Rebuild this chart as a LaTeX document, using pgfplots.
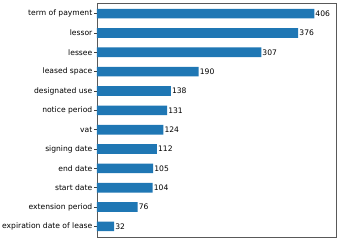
\documentclass[border=0pt]{standalone}
\usepackage{pgfplots}
\pgfplotsset{compat=1.18}
\usetikzlibrary{calc}
\usepackage{fontspec}
\setmainfont{DejaVu Sans}
\definecolor{bar}{HTML}{1F77B4}
\begin{document}
\begin{tikzpicture}
\begin{axis}[
  scale only axis,
  width=239pt, height=234pt,
  xbar, bar width=0.5, bar shift=0pt,
  xmin=0, xmax=446.6,
  ymin=-0.55, ymax=11.55,
  y dir=reverse,
  xtick=\empty,
  ytick={0,...,11},
  ytick pos=left,
  yticklabels={term of payment,lessor,lessee,leased space,designated use,notice period,vat,signing date,end date,start date,extension period,expiration date of lease},
  yticklabel style={font=\fontsize{7.6}{9}\selectfont, inner sep=1.5pt},
  tick align=outside,
  major tick length=3pt,
  tick style={black!75, line width=0.5pt},
  axis line style={black!65, line width=0.6pt},
  nodes near coords,
  every node near coord/.append style={font=\fontsize{7.6}{9}\selectfont, anchor=west, inner sep=1pt, black},
  /pgf/number format/assume math mode=true,
]
\addplot[fill=bar, draw=none] coordinates {
(406,0) (376,1) (307,2) (190,3) (138,4) (131,5) (124,6) (112,7) (105,8) (104,9) (76,10) (32,11)
};
\end{axis}
\path ($(current axis.south west)+(-97pt,-5pt)$) rectangle ($(current axis.north east)+(4pt,3pt)$);
\end{tikzpicture}
\end{document}
